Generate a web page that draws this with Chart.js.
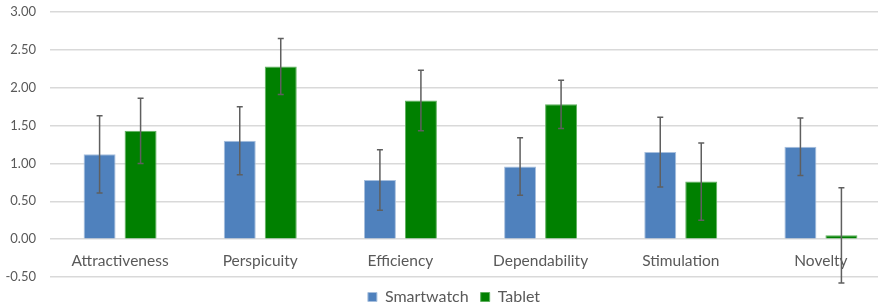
<!DOCTYPE html>
<html>
<head>
<meta charset="utf-8">
<script src="https://cdn.jsdelivr.net/npm/chart.js@4.4.0/dist/chart.umd.min.js"></script>
<style>
  html, body { margin: 0; padding: 0; background: #fff; overflow: hidden; }
  #wrap { width: 878px; height: 307px; overflow: hidden; position: relative; }
  #box { width: 891px; height: 315px; position: absolute; left: 0; top: 0; }
</style>
</head>
<body>
<div id="wrap"><div id="box"><canvas id="uxChart"></canvas></div></div>
<script>
// scales of the questionnaire
const categories = ['Attractiveness', 'Perspicuity', 'Efficiency', 'Dependability', 'Stimulation', 'Novelty'];

// mean values
const smartwatch = [1.12, 1.30, 0.78, 0.96, 1.15, 1.22];
const tablet = [1.43, 2.28, 1.83, 1.78, 0.76, 0.05];

// error bars (+/-)
const smartwatchErr = [0.51, 0.45, 0.40, 0.38, 0.46, 0.38];
const tabletErr = [0.43, 0.37, 0.40, 0.32, 0.51, 0.63];

const yTicks = [-0.5, 0, 0.5, 1, 1.5, 2, 2.5, 3];

const textColor = '#595959';
const fontFamily = "Lato, 'Liberation Sans', sans-serif";

// draws the error bars on top of the bars
const errorBars = {
    id: 'errorBars',
    afterDatasetsDraw(chart) {
        const ctx = chart.ctx;
        const yScale = chart.scales.y;
        chart.data.datasets.forEach((ds, i) => {
            const meta = chart.getDatasetMeta(i);
            meta.data.forEach((bar, j) => {
                const v = ds.data[j];
                const e = ds.errors[j];
                const top = yScale.getPixelForValue(v + e);
                const bottom = yScale.getPixelForValue(v - e);
                ctx.save();
                ctx.strokeStyle = '#5f5f5f';
                ctx.lineWidth = 1.5;
                ctx.beginPath();
                ctx.moveTo(bar.x, top);
                ctx.lineTo(bar.x, bottom);
                ctx.moveTo(bar.x - 3, top);
                ctx.lineTo(bar.x + 3, top);
                ctx.moveTo(bar.x - 3, bottom);
                ctx.lineTo(bar.x + 3, bottom);
                ctx.stroke();
                ctx.restore();
            });
        });
    }
};

// the original legend sits centred on the full (wider) chart, nudge it right
const legendShift = {
    id: 'legendShift',
    afterLayout(chart) {
        chart.legend.left += 8.5;
        chart.legend.right += 8.5;
    }
};

const ctx = document.getElementById('uxChart').getContext('2d');

new Chart(ctx, {
    type: 'bar',
    data: {
        labels: categories,
        datasets: [{
            label: 'Smartwatch',
            data: smartwatch,
            errors: smartwatchErr,
            backgroundColor: '#4f81bd',
            borderColor: '#a7bfdd',
            borderWidth: 1,
            categoryPercentage: 0.585,
            barPercentage: 0.78
        }, {
            label: 'Tablet',
            data: tablet,
            errors: tabletErr,
            backgroundColor: '#008000',
            borderColor: '#5fb05f',
            borderWidth: 1,
            categoryPercentage: 0.585,
            barPercentage: 0.78
        }]
    },
    options: {
        responsive: true,
        maintainAspectRatio: false,
        animation: false,
        layout: {
            padding: { top: 12, right: 0, left: 0, bottom: 0 }
        },
        scales: {
            x: {
                position: { y: 0 },
                grid: { display: false, drawTicks: false },
                border: { display: false },
                ticks: {
                    color: textColor,
                    padding: 13,
                    font: { family: fontFamily, size: 15.5 }
                }
            },
            y: {
                min: -0.5,
                max: 3,
                afterFit(scale) {
                    scale.width = 50;
                    scale.paddingTop = 0;
                    scale.paddingBottom = 0;
                },
                afterBuildTicks(scale) {
                    scale.ticks = yTicks.map(v => ({ value: v }));
                },
                grid: { color: '#d9d9d9', lineWidth: 1.5, drawTicks: false },
                border: { display: false },
                ticks: {
                    color: textColor,
                    padding: 14,
                    font: { family: fontFamily, size: 13 },
                    callback: v => v.toFixed(2)
                }
            }
        },
        plugins: {
            legend: {
                position: 'bottom',
                labels: {
                    color: textColor,
                    boxWidth: 9,
                    boxHeight: 9,
                    padding: 12,
                    font: { family: fontFamily, size: 16 }
                }
            },
            tooltip: { enabled: false }
        }
    },
    plugins: [errorBars, legendShift]
});
</script>
</body>
</html>
